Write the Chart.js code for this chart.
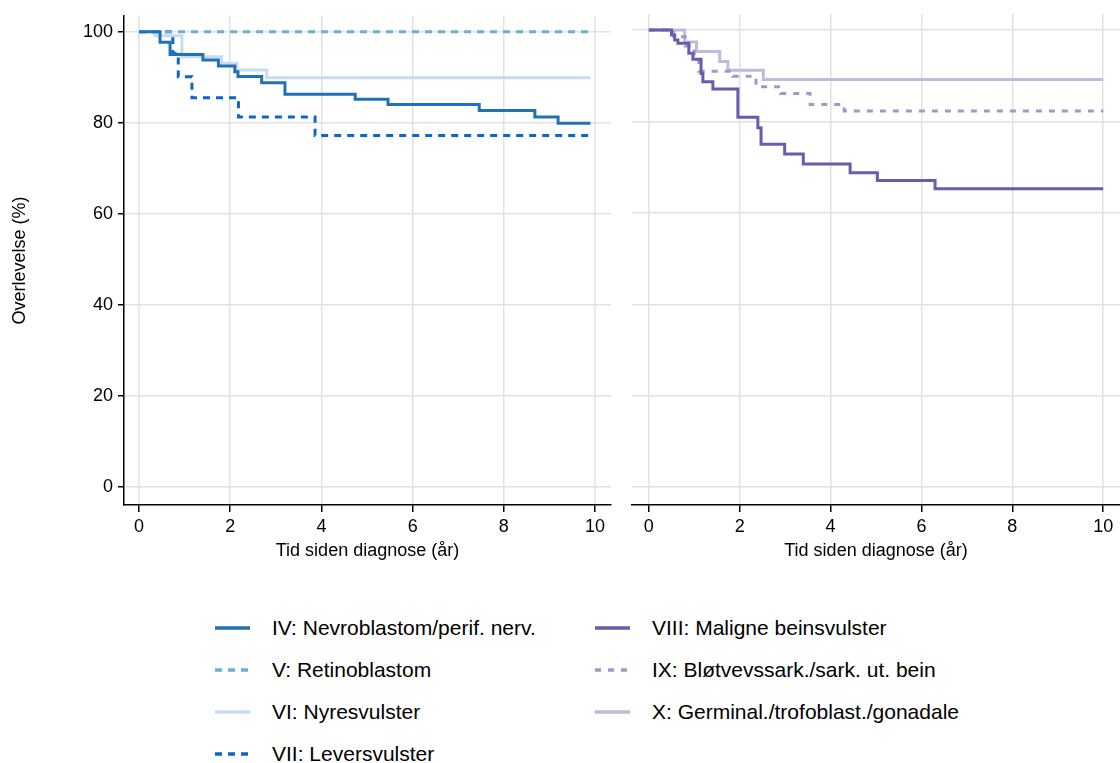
<!DOCTYPE html>
<html>
<head>
<meta charset="utf-8">
<script src="https://cdn.jsdelivr.net/npm/chart.js@4.4.1/dist/chart.umd.min.js"></script>
<style>
  body { margin: 0; background: #fff; width: 1120px; height: 763px; position: relative; overflow: hidden;
         font-family: "Liberation Sans", Arial, sans-serif; }
  canvas { position: absolute; top: 0; }
  #left { left: 0; }
  #right { left: 620px; }
  .leg { position: absolute; display: flex; align-items: center; font-size: 21px; line-height: 24px; color: #000; white-space: nowrap; }
  .leg svg { display: block; margin-right: 22px; }
</style>
</head>
<body>
<canvas id="left" width="620" height="575"></canvas>
<canvas id="right" width="500" height="575"></canvas>
<div id="legend"></div>
<script>
// tick labels
const xTicks = [0, 2, 4, 6, 8, 10];
const yTicks = [0, 20, 40, 60, 80, 100];

// survival (%) against time since diagnosis (years)
const ivTime   = [0, 0.46, 0.68, 1.4, 1.74, 2.1, 2.17, 2.69, 3.2, 4.74, 5.46, 7.46, 8.68, 9.19, 9.9];
const ivSurv   = [100, 97.7, 95.0, 93.8, 92.5, 91.2, 90.2, 88.8, 86.3, 85.2, 84.0, 82.7, 81.3, 79.9, 79.9];
const vTime    = [0, 9.9];
const vSurv    = [100, 100];
const viTime   = [0, 0.35, 0.94, 1.81, 2.14, 2.8, 9.9];
const viSurv   = [100, 99.1, 94.5, 93.1, 91.6, 89.9, 89.9];
const viiTime  = [0, 0.74, 0.86, 1.16, 2.18, 3.86, 9.9];
const viiSurv  = [100, 95.3, 90.1, 85.5, 81.3, 77.2, 77.2];

const viiiTime = [0, 0.5, 0.57, 0.64, 0.88, 0.97, 1.15, 1.19, 1.41, 1.96, 2.4, 2.47, 2.99, 3.4, 4.43, 5.03, 6.3, 10];
const viiiSurv = [100, 98.9, 97.8, 97.1, 94.9, 93.6, 90.5, 88.7, 87.1, 80.9, 78.6, 75.0, 72.9, 70.7, 68.8, 67.1, 65.3, 65.3];
const ixTime   = [0, 0.55, 0.8, 1.0, 1.1, 1.85, 2.36, 2.9, 3.55, 4.3, 10];
const ixSurv   = [100, 98.5, 96.5, 94.5, 91.0, 89.9, 87.6, 86.1, 83.7, 82.3, 82.3];
const xTime    = [0, 0.79, 1.05, 1.56, 1.74, 2.52, 10];
const xSurv    = [100, 97.4, 95.3, 93.1, 91.2, 89.2, 89.2];

const leftGroups = [
    { label: 'IV: Nevroblastom/perif. nerv.', t: ivTime, s: ivSurv, color: '#2171b5', dash: [] },
    { label: 'V: Retinoblastom', t: vTime, s: vSurv, color: '#6baed6', dash: [7, 6] },
    { label: 'VI: Nyresvulster', t: viTime, s: viSurv, color: '#c6dbef', dash: [] },
    { label: 'VII: Leversvulster', t: viiTime, s: viiSurv, color: '#0b66cc', dash: [7, 6] }
];
const rightGroups = [
    { label: 'VIII: Maligne beinsvulster', t: viiiTime, s: viiiSurv, color: '#6b5bae', dash: [] },
    { label: 'IX: Bløtvevssark./sark. ut. bein', t: ixTime, s: ixSurv, color: '#9e9ac8', dash: [6, 7] },
    { label: 'X: Germinal./trofoblast./gonadale', t: xTime, s: xSurv, color: '#bcbddc', dash: [] }
];

const axisFont = { family: '"Liberation Sans", Arial, sans-serif', size: 18 };

function toDatasets(groups) {
    return groups.map(g => ({
        label: g.label,
        data: g.t.map((t, i) => ({ x: t, y: g.s[i] })),
        borderColor: g.color,
        borderDash: g.dash,
        borderWidth: 3,
        stepped: true,
        pointRadius: 0,
        fill: false
    }));
}

function makeChart(id, groups, isLeft) {
    new Chart(document.getElementById(id), {
        type: 'line',
        data: { datasets: toDatasets(groups) },
        options: {
            responsive: false,
            animation: false,
            events: [],
            layout: { padding: isLeft ? { top: 14, right: 9, left: 0, bottom: 0 } : { top: 14, right: 0, left: 12, bottom: 0 } },
            plugins: { legend: { display: false }, tooltip: { enabled: false } },
            scales: {
                x: {
                    type: 'linear',
                    min: isLeft ? -0.33 : -0.37,
                    max: isLeft ? 10.35 : 10.37,
                    afterBuildTicks: s => { s.ticks = xTicks.map(v => ({ value: v })); },
                    afterFit: s => { s.height = 70; },
                    grid: { color: '#e2e2e2', lineWidth: 1.5, tickColor: '#000', tickLength: 7, tickWidth: 1.5 },
                    border: { display: true, color: '#000', width: 1.5 },
                    ticks: { color: '#000', font: axisFont, padding: 4, maxRotation: 0 },
                    title: { display: true, text: 'Tid siden diagnose (år)', color: '#000', font: axisFont, padding: { top: 0, bottom: 13 } }
                },
                y: {
                    type: 'linear',
                    min: -3.9,
                    max: 103.5,
                    afterBuildTicks: s => { s.ticks = yTicks.map(v => ({ value: v })); },
                    afterFit: s => { s.width = isLeft ? 124 : 0; },
                    grid: { color: '#e2e2e2', lineWidth: 1.5, tickColor: '#000', tickLength: 6, tickWidth: 1.5, drawTicks: isLeft },
                    border: { display: isLeft, color: '#000', width: 1.5 },
                    ticks: { display: isLeft, color: '#000', font: axisFont, padding: 5 },
                    title: { display: isLeft, text: 'Overlevelse (%)', color: '#000', font: axisFont, padding: { top: 9, bottom: 0 } }
                }
            }
        }
    });
}

makeChart('left', leftGroups, true);
makeChart('right', rightGroups, false);

// legend below the panels, two columns
const legend = document.getElementById('legend');
function addLegendItems(groups, x) {
    groups.forEach((g, i) => {
        const div = document.createElement('div');
        div.className = 'leg';
        div.style.left = x + 'px';
        div.style.top = (616 + i * 42) + 'px';
        const dash = g.dash.length ? `stroke-dasharray="${g.dash.join(' ')}"` : '';
        div.innerHTML = `<svg width="35" height="6"><line x1="0" y1="3" x2="35" y2="3" stroke="${g.color}" stroke-width="3.5" ${dash}/></svg><span>${g.label}</span>`;
        legend.appendChild(div);
    });
}
addLegendItems(leftGroups, 215);
addLegendItems(rightGroups, 595);
</script>
</body>
</html>
